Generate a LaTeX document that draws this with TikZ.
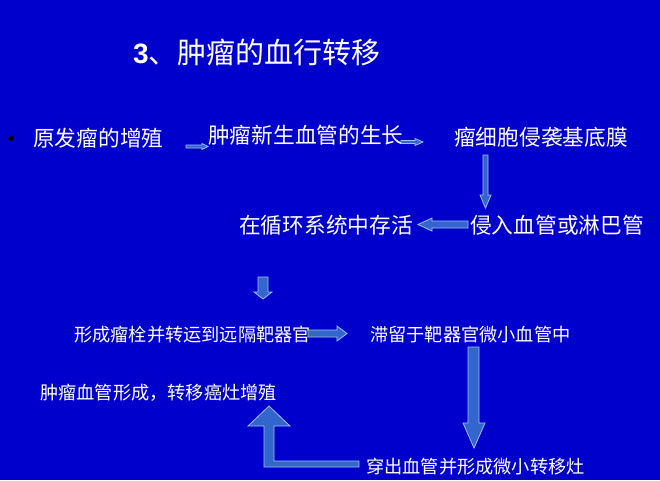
\documentclass[tikz,border=0pt]{standalone}
\usepackage{fontspec}
\newfontfamily\cjk{Noto Sans CJK SC}
\usetikzlibrary{positioning}
\definecolor{bgblue}{RGB}{0,0,204}
\definecolor{arrfill}{RGB}{51,102,204}
\definecolor{arrline}{RGB}{160,190,240}
\tikzset{
  lbl/.style={text=white, anchor=west, inner sep=0pt, font=\cjk\fontsize{21.7}{24}\selectfont},
  lblsm/.style={text=white, anchor=west, inner sep=0pt, font=\cjk\fontsize{18.2}{21}\selectfont},
  blockarrow/.style={fill=arrfill, draw=arrline, line width=0.8pt, line join=miter},
}
\begin{document}
\begin{tikzpicture}[x=1pt,y=-1pt]
\fill[bgblue] (0,0) rectangle (660,480);
\useasboundingbox (0,0) rectangle (660,480);

% title
\node[text=white, anchor=west, inner sep=0pt] (title) at (133,52)
  {{\fontspec{Liberation Sans Bold}\fontsize{28}{30}\selectfont 3}{\cjk\fontsize{29}{32}\selectfont 、肿瘤的血行转移}};

% bullet
\node[circle, fill=black, inner sep=0pt, minimum size=5.5pt] (bul) at (11,138.5) {};

% texts
\node[lbl] (t1) at (33,138) {原发瘤的增殖};
\node[lbl] (t2) at (208,135) {肿瘤新生血管的生长};
\node[lbl] (t3) at (454,137) {瘤细胞侵袭基底膜};
\node[lbl] (t4) at (470,225) {侵入血管或淋巴管};
\node[lbl] (t5) at (239,225) {在循环系统中存活};
\node[lblsm] (t6) at (74,335) {形成瘤栓并转运到远隔靶器官};
\node[lblsm] (t7) at (370,335) {滞留于靶器官微小血管中};
\node[lblsm] (t8) at (366,467) {穿出血管并形成微小转移灶};
\node[lblsm] (t9) at (40,393) {肿瘤血管形成，转移癌灶增殖};

% arrows (block shapes)
% t1 -> t2
\draw[blockarrow] (186,145) -- (202,145) -- (202,143.5) -- (208,146.5) -- (202,149.5) -- (202,148) -- (186,148) -- cycle;
% t2 -> t3
\draw[blockarrow] (401,140.5) -- (415,140.5) -- (415,138.5) -- (423,142) -- (415,145.5) -- (415,143.5) -- (401,143.5) -- cycle;
% t3 -> t4 (down)
\draw[blockarrow] (483,155) -- (488,155) -- (488,195) -- (491,195) -- (485.5,208) -- (480,195) -- (483,195) -- cycle;
% t4 -> t5 (left)
\draw[blockarrow] (468,221) -- (432,221) -- (432,218) -- (418,224.5) -- (432,231) -- (432,228) -- (468,228) -- cycle;
% t5 -> t6 (down)
\draw[blockarrow] (258,277) -- (268,277) -- (268,292) -- (272,292) -- (263,299) -- (254,292) -- (258,292) -- cycle;
% t6 -> t7 (right)
\draw[blockarrow] (308,330) -- (337,330) -- (337,326) -- (347,333.5) -- (337,341) -- (337,337) -- (308,337) -- cycle;
% t7 -> t8 (down)
\draw[blockarrow] (468,347) -- (479,347) -- (479,423) -- (485,423) -- (474,448) -- (463,423) -- (468,423) -- cycle;
% t8 -> t9 (bent up)
\draw[blockarrow] (359,461) -- (274,461) -- (274,426) -- (290,426) -- (269,406) -- (248,426) -- (264,426) -- (264,467) -- (359,467) -- cycle;
\end{tikzpicture}
\end{document}
